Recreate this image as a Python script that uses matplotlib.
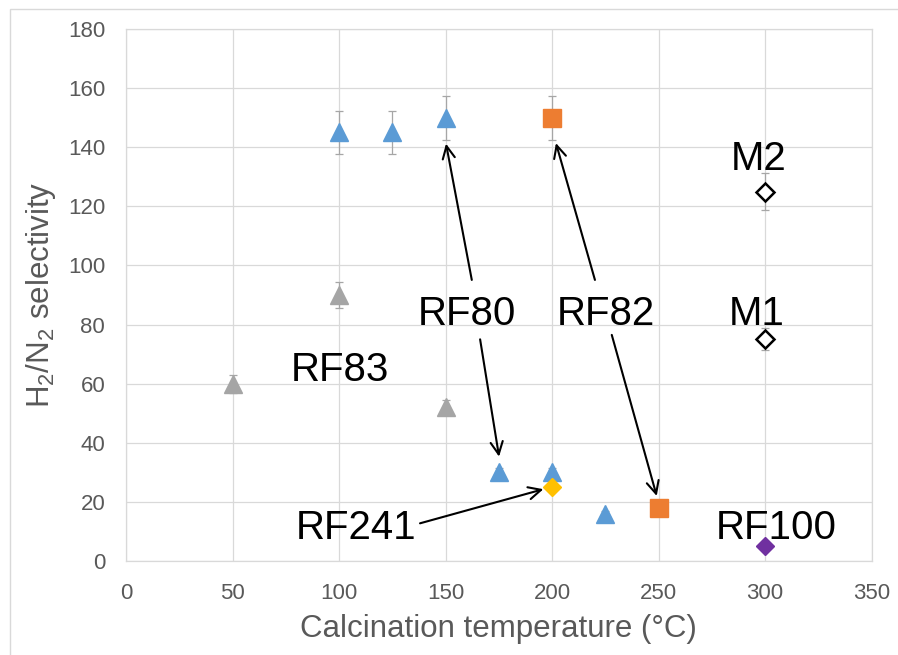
import matplotlib
matplotlib.use("Agg")
import matplotlib.pyplot as plt
from matplotlib.patches import Rectangle

plt.rcParams['font.family'] = ['Liberation Sans', 'DejaVu Sans']
plt.rcParams['mathtext.fontset'] = 'custom'
plt.rcParams['mathtext.rm'] = 'Liberation Sans'

# RF83 series (grey triangles)
rf83_temp = [50, 100, 150]
rf83_sel = [60, 90, 52]
rf83_err = [3.0, 4.5, 2.6]

# RF80 series (blue triangles)
rf80_temp = [100, 125, 150, 175, 200, 225]
rf80_sel = [145, 145, 150, 30, 30, 16]
rf80_err = [7.25, 7.25, 7.5, 1.5, 1.5, 0.8]

# RF82 series (orange squares)
rf82_temp = [200, 250]
rf82_sel = [150, 18]
rf82_err = [7.5, 0.9]

# RF241 (yellow diamond)
rf241_temp = [200]
rf241_sel = [25]
rf241_err = [1.25]

# RF100 (purple diamond)
rf100_temp = [300]
rf100_sel = [5]
rf100_err = [0.25]

# Reference membranes M1 / M2 (open diamonds)
m_temp = [300, 300]
m_sel = [75, 125]
m_err = [3.75, 6.25]

x_ticks = [0, 50, 100, 150, 200, 250, 300, 350]
y_ticks = [0, 20, 40, 60, 80, 100, 120, 140, 160, 180]

fig = plt.figure(figsize=(8.98, 6.55), dpi=100)
ax = fig.add_axes([126 / 898, 1 - 561 / 655, 745.7 / 898, 532 / 655])

# outer chart frame
fig.patches.append(Rectangle((10 / 898, -0.1), 1.2, (655 - 9) / 655 + 0.1,
                             transform=fig.transFigure, fill=False,
                             edgecolor='#D9D9D9', linewidth=1.0))

err_kw = dict(fmt='none', ecolor='#A6A6A6', elinewidth=0.9, capsize=3,
              capthick=0.9, zorder=2)

series = [
    (rf83_temp, rf83_sel, rf83_err, dict(marker='^', ms=13.5, color='#A5A5A5', mec='#A5A5A5')),
    (rf80_temp, rf80_sel, rf80_err, dict(marker='^', ms=13.5, color='#5B9BD5', mec='#5B9BD5')),
    (rf82_temp, rf82_sel, rf82_err, dict(marker='s', ms=13, color='#ED7D31', mec='#ED7D31')),
    (rf241_temp, rf241_sel, rf241_err, dict(marker='D', ms=9.5, color='#FFC000', mec='#FFC000')),
    (rf100_temp, rf100_sel, rf100_err, dict(marker='D', ms=9.5, color='#7030A0', mec='#7030A0')),
    (m_temp, m_sel, m_err, dict(marker='D', ms=9.5, mfc='white', mec='black', mew=1.8)),
]
for i, (xs, ys, es, style) in enumerate(series):
    ax.errorbar(xs, ys, yerr=es, **err_kw)
    ax.plot(xs, ys, linestyle='none', zorder=3 + i, **style)

ax.set_xlim(0, 350)
ax.set_ylim(0, 180)
ax.set_xticks(x_ticks)
ax.set_yticks(y_ticks)
ax.grid(True, color='#D9D9D9', linewidth=0.9)
ax.set_axisbelow(True)
for s in ax.spines.values():
    s.set_color('#D9D9D9')
    s.set_linewidth(0.9)
ax.tick_params(length=0, labelsize=16, labelcolor='#595959')
ax.tick_params(axis='x', pad=16)
ax.tick_params(axis='y', pad=15)

ax.set_xlabel('Calcination temperature (°C)', fontsize=22.5, color='#595959', labelpad=7)
ax.set_ylabel(r'H$_\mathregular{2}$/N$_\mathregular{2}$ selectivity', fontsize=22.5,
              color='#595959')
ax.yaxis.set_label_coords(-0.091, 0.5)

# sample labels
labels = [
    ('RF80', 159.9, 79.8), ('RF82', 225.2, 79.8), ('M1', 296.2, 79.8),
    ('M2', 297.0, 132.3), ('RF83', 100.3, 60.9), ('RF241', 107.9, 7.4),
    ('RF100', 305.2, 7.3),
]
for txt, lx, ly in labels:
    ax.text(lx, ly, txt, fontsize=29, color='black', ha='center', va='baseline', zorder=1)

arrow_kw = dict(arrowstyle='->,head_length=0.45,head_width=0.22', color='black',
                lw=1.5, shrinkA=0, shrinkB=0, mutation_scale=20)
arrows = [
    ((162.3, 95.1), (150.2, 141.2)),
    ((166.2, 75.0), (175.1, 35.3)),
    ((220.1, 95.1), (201.8, 141.4)),
    ((228.0, 76.5), (249.1, 22.0)),
    ((138.0, 12.75), (195.9, 24.3)),
]
for start, tip in arrows:
    ax.annotate('', xy=tip, xytext=start, arrowprops=arrow_kw, zorder=10)

fig.savefig('out.png', dpi=100)
